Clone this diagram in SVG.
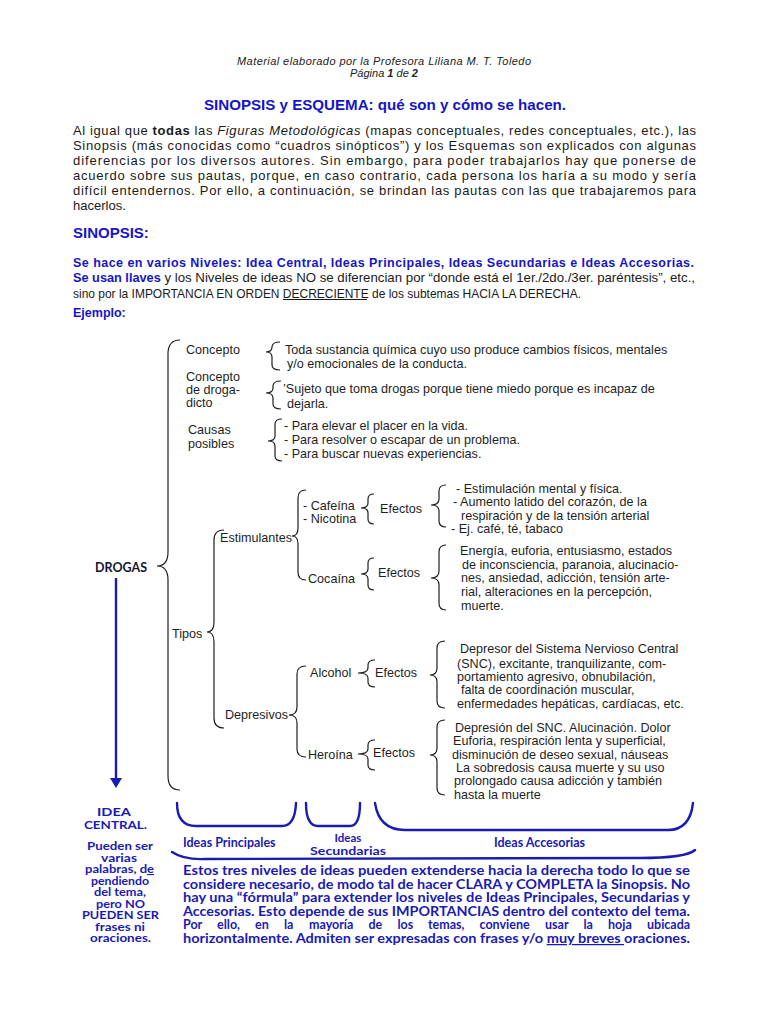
<svg xmlns="http://www.w3.org/2000/svg" width="768" height="1024" viewBox="0 0 768 1024">
<style>
.hd{font-family:"Liberation Sans",Arial,sans-serif;font-size:11px;font-style:italic;fill:#222}
.ttl{font-family:"Liberation Sans",Arial,sans-serif;font-size:15px;font-weight:bold;fill:#1515c8}
.p{font-family:"Liberation Sans",Arial,sans-serif;font-size:13px;fill:#1a1a1a}
.bl{font-family:"Liberation Sans",Arial,sans-serif;font-weight:bold;fill:#1515c8}
.d{font-family:"Liberation Sans",Arial,sans-serif;font-size:12.6px;fill:#1e1e1e}
.dr{font-family:Lato,"Open Sans",sans-serif;font-size:12.5px;font-weight:bold;fill:#14142e}
.cb{font-family:Lato,"Open Sans",sans-serif;font-weight:bold;fill:#1a1ab4}
.br{fill:none;stroke:#1e1e1e;stroke-width:1.2}
.bb{fill:none;stroke:#1a1ab4;stroke-width:2.4;stroke-linecap:round}
</style>
<rect width="768" height="1024" fill="#ffffff"/>

<g id="header">
<text class="hd" x="237" y="65" textLength="294" lengthAdjust="spacing">Material elaborado por la Profesora Liliana M. T. Toledo</text>
<text class="hd" x="384" y="77" text-anchor="middle">Página <tspan font-weight="bold">1</tspan> de <tspan font-weight="bold">2</tspan></text>
<text class="ttl" x="204" y="110" textLength="362" lengthAdjust="spacingAndGlyphs">SINOPSIS y ESQUEMA: qué son y cómo se hacen.</text>
</g>

<g id="intro">
<text class="p" x="73" y="135" textLength="623" lengthAdjust="spacing">Al igual que <tspan font-weight="bold">todas</tspan> las <tspan font-style="italic">Figuras Metodológicas</tspan> (mapas conceptuales, redes conceptuales, etc.), las</text>
<text class="p" x="73" y="150" textLength="623" lengthAdjust="spacing">Sinopsis (más conocidas como “cuadros sinópticos”) y los Esquemas son explicados con algunas</text>
<text class="p" x="73" y="165" textLength="623" lengthAdjust="spacing">diferencias por los diversos autores. Sin embargo, para poder trabajarlos hay que ponerse de</text>
<text class="p" x="73" y="180" textLength="623" lengthAdjust="spacing">acuerdo sobre sus pautas, porque, en caso contrario, cada persona los haría a su modo y sería</text>
<text class="p" x="73" y="195" textLength="623" lengthAdjust="spacing">difícil entendernos. Por ello, a continuación, se brindan las pautas con las que trabajaremos para</text>
<text class="p" x="73" y="210">hacerlos.</text>
</g>

<g id="sinopsis">
<text class="bl" x="73" y="238" font-size="15">SINOPSIS:</text>
<text class="bl" x="73" y="267" font-size="12.5" textLength="621" lengthAdjust="spacing">Se hace en varios Niveles: Idea Central, Ideas Principales, Ideas Secundarias e Ideas Accesorias.</text>
<text class="p" x="73" y="281.5" font-size="12.5" textLength="622" lengthAdjust="spacingAndGlyphs"><tspan class="bl" font-size="12.5">Se usan llaves</tspan> y los Niveles de ideas NO se diferencian por “donde está el 1er./2do./3er. paréntesis”, etc.,</text>
<text class="p" x="73" y="297.5" font-size="12.5" textLength="508" lengthAdjust="spacingAndGlyphs">sino por la IMPORTANCIA EN ORDEN DECRECIENTE de los subtemas HACIA LA DERECHA.</text>
<line x1="283" y1="299.5" x2="367" y2="299.5" stroke="#1a1a1a" stroke-width="1"/>
<text class="bl" x="73" y="317" font-size="12.5">Ejemplo:</text>
</g>

<g id="connectors">
<path class="br" d="M180,340 Q168,340 168,354 L168,552 Q168,566 157,566 Q168,566 168,580 L168,776 Q168,790 180,790"/>
<path class="br" d="M280,342 Q272,342 272,347 Q272,352 266,352 Q272,352 272,357 L272,365 Q272,370 280,370"/>
<path class="br" d="M281,381 Q273,381 273,386 L273,388 Q273,393 266,393 Q273,393 273,398 L273,404 Q273,409 281,409"/>
<path class="br" d="M282,419 Q275,419 275,424 L275,436 Q275,441 268,441 Q275,441 275,446 L275,456 Q275,461 282,461"/>
<path class="br" d="M224,530 Q214,530 214,540 L214,622 Q214,632 207,632 Q214,632 214,642 L214,718 Q214,728 224,728"/>
<path class="br" d="M306,490 Q298,490 298,498 L298,528 Q298,536 292,536 Q298,536 298,544 L298,572 Q298,580 306,580"/>
<path class="br" d="M374,494 Q368,494 368,499 L368,503 Q368,508 361,508 Q368,508 368,513 L368,519 Q368,524 374,524"/>
<path class="br" d="M446,485 Q439,485 439,491 L439,499 Q439,505 431,505 Q439,505 439,511 L439,521 Q439,527 446,527"/>
<path class="br" d="M374,558 Q368,558 368,563 L368,569 Q368,574 361,574 Q368,574 368,579 L368,585 Q368,590 374,590"/>
<path class="br" d="M446,545 Q439,545 439,552 L439,571 Q439,578 431,578 Q439,578 439,585 L439,603 Q439,610 446,610"/>
<path class="br" d="M306,666 Q297,666 297,674 L297,707 Q297,715 289,715 Q297,715 297,723 L297,749 Q297,757 306,757"/>
<path class="br" d="M375,660 Q368,660 368,665 L368,668 Q368,673 358,673 Q368,673 368,678 L368,682 Q368,687 375,687"/>
<path class="br" d="M445,641 Q437,641 437,648 L437,668 Q437,675 430,675 Q437,675 437,682 L437,701 Q437,708 445,708"/>
<path class="br" d="M375,740 Q368,740 368,745 L368,749 Q368,754 358,754 Q368,754 368,759 L368,765 Q368,770 375,770"/>
<path class="br" d="M445,720 Q437,720 437,727 L437,748 Q437,755 430,755 Q437,755 437,762 L437,788 Q437,795 445,795"/>
<line x1="116" y1="578" x2="116" y2="779" stroke="#1a1ab4" stroke-width="2.4"/>
<polygon points="110,778 122,778 116,788" fill="#1a1ab4"/>
<path class="bb" d="M177,803 Q177,826 196,826 L282,826 Q295,826 296,803"/>
<path class="bb" d="M306,803 Q306,826 318,826 L350,826 Q360,826 360,803"/>
<path class="bb" d="M375,803 Q379,830 405,830 L668,830 Q690,830 693,803"/>
<path class="bb" d="M172,852 Q184,860 205,859 L640,858 Q686,858 695,850" stroke-width="2"/>
</g>

<g id="drogas"><text class="dr" x="95" y="572" textLength="52" lengthAdjust="spacingAndGlyphs">DROGAS</text></g>

<g id="concepto">
<text class="d" x="186" y="354">Concepto</text>
<text class="d" x="285" y="354">Toda sustancia química cuyo uso produce cambios físicos, mentales</text>
<text class="d" x="287" y="368">y/o emocionales de la conducta.</text>
</g>
<g id="drogadicto">
<text class="d" x="186" y="381">Concepto</text>
<text class="d" x="186" y="394">de droga-</text>
<text class="d" x="186" y="407">dicto</text>
<text class="d" x="283" y="393">’Sujeto que toma drogas porque tiene miedo porque es incapaz de</text>
<text class="d" x="287" y="408">dejarla.</text>
</g>
<g id="causas">
<text class="d" x="188" y="434">Causas</text>
<text class="d" x="188" y="448">posibles</text>
<text class="d" x="284" y="430">- Para elevar el placer en la vida.</text>
<text class="d" x="284" y="444">- Para resolver o escapar de un problema.</text>
<text class="d" x="284" y="458">- Para buscar nuevas experiencias.</text>
</g>

<g id="tipos"><text class="d" x="172" y="638">Tipos</text></g>
<g id="estimulantes"><text class="d" x="220" y="542">Estimulantes</text></g>
<g id="cafeina">
<text class="d" x="303" y="510">- Cafeína</text>
<text class="d" x="303" y="523">- Nicotina</text>
<text class="d" x="380" y="513">Efectos</text>
<text class="d" x="456" y="493">-  Estimulación mental y física.</text>
<text class="d" x="453" y="506">-  Aumento latido del corazón, de la</text>
<text class="d" x="461" y="520">respiración y de la tensión arterial</text>
<text class="d" x="451" y="533">-  Ej. café, té, tabaco</text>
</g>
<g id="cocaina">
<text class="d" x="308" y="583">Cocaína</text>
<text class="d" x="378" y="577">Efectos</text>
<text class="d" x="460" y="555">Energía, euforia, entusiasmo, estados</text>
<text class="d" x="462" y="569">de inconsciencia, paranoia, alucinacio-</text>
<text class="d" x="461" y="582">nes, ansiedad, adicción, tensión arte-</text>
<text class="d" x="461" y="596">rial, alteraciones en la percepción,</text>
<text class="d" x="461" y="610">muerte.</text>
</g>
<g id="depresivos"><text class="d" x="225" y="719">Depresivos</text></g>
<g id="alcohol">
<text class="d" x="310" y="677">Alcohol</text>
<text class="d" x="375" y="677">Efectos</text>
<text class="d" x="460" y="653">Depresor del Sistema Nervioso Central</text>
<text class="d" x="457" y="668">(SNC), excitante, tranquilizante, com-</text>
<text class="d" x="457" y="681">portamiento agresivo, obnubilación,</text>
<text class="d" x="461" y="694">falta de coordinación muscular,</text>
<text class="d" x="457" y="708">enfermedades hepáticas, cardíacas, etc.</text>
</g>
<g id="heroina">
<text class="d" x="308" y="759">Heroína</text>
<text class="d" x="373" y="757">Efectos</text>
<text class="d" x="455" y="732">Depresión del SNC. Alucinación. Dolor</text>
<text class="d" x="453" y="745">Euforia, respiración lenta y  superficial,</text>
<text class="d" x="452" y="759">disminución de deseo sexual, náuseas</text>
<text class="d" x="456" y="772">La sobredosis causa muerte y su uso</text>
<text class="d" x="454" y="785">prolongado causa adicción y también</text>
<text class="d" x="454" y="799">hasta la muerte</text>
</g>

<g id="idea-central">
<text class="cb" x="97" y="816" font-size="11.5" textLength="34" lengthAdjust="spacingAndGlyphs">IDEA</text>
<text class="cb" x="84" y="829" font-size="11.5" textLength="63" lengthAdjust="spacingAndGlyphs">CENTRAL.</text>
<text class="cb" x="87" y="850" font-size="11" textLength="66" lengthAdjust="spacingAndGlyphs">Pueden ser</text>
<text class="cb" x="101" y="861.5" font-size="11" textLength="36" lengthAdjust="spacingAndGlyphs">varias</text>
<text class="cb" x="85" y="873" font-size="11" textLength="69" lengthAdjust="spacingAndGlyphs">palabras, d<tspan text-decoration="underline">e</tspan></text>
<text class="cb" x="91" y="884.5" font-size="11" textLength="58" lengthAdjust="spacingAndGlyphs">pendiendo</text>
<text class="cb" x="94" y="896" font-size="11" textLength="52" lengthAdjust="spacingAndGlyphs">del tema,</text>
<text class="cb" x="96" y="907.5" font-size="11" textLength="49" lengthAdjust="spacingAndGlyphs">pero NO</text>
<text class="cb" x="82" y="919" font-size="11" textLength="77" lengthAdjust="spacingAndGlyphs">PUEDEN SER</text>
<text class="cb" x="95" y="930.5" font-size="11" textLength="50" lengthAdjust="spacingAndGlyphs">frases ni</text>
<text class="cb" x="90" y="942" font-size="11" textLength="61" lengthAdjust="spacingAndGlyphs">oraciones.</text>
</g>
<g id="labels">
<text class="cb" x="183" y="847" font-size="12.5">Ideas Principales</text>
<text class="cb" x="348" y="842" font-size="11.5" text-anchor="middle">Ideas</text>
<text class="cb" x="310" y="855" font-size="11.5" textLength="76" lengthAdjust="spacingAndGlyphs">Secundarias</text>
<text class="cb" x="494" y="847" font-size="12.5">Ideas Accesorias</text>
</g>
<g id="nota">
<text class="cb" x="183" y="875" font-size="12.5" textLength="507" lengthAdjust="spacingAndGlyphs">Estos tres niveles de ideas pueden extenderse hacia la derecha todo lo que se</text>
<text class="cb" x="183" y="889" font-size="12.5" textLength="507" lengthAdjust="spacingAndGlyphs">considere necesario, de modo tal de hacer CLARA y COMPLETA la Sinopsis. No</text>
<text class="cb" x="183" y="902" font-size="12.5" textLength="507" lengthAdjust="spacingAndGlyphs">hay una “fórmula” para extender los niveles de Ideas Principales, Secundarias y</text>
<text class="cb" x="183" y="916" font-size="12.5" textLength="507" lengthAdjust="spacingAndGlyphs">Accesorias. Esto depende de sus IMPORTANCIAS dentro del contexto del tema.</text>
<text class="cb" y="929" font-size="12.5"><tspan x="183">Por</tspan> <tspan x="217">ello,</tspan> <tspan x="255">en</tspan> <tspan x="284">la</tspan> <tspan x="309">mayoría</tspan> <tspan x="368.5">de</tspan> <tspan x="397.5">los</tspan> <tspan x="428">temas,</tspan> <tspan x="479.5">conviene</tspan> <tspan x="545">usar</tspan> <tspan x="583.5">la</tspan> <tspan x="608">hoja</tspan> <tspan x="647">ubicada</tspan></text>
<text class="cb" x="183" y="943" font-size="12.5" textLength="507" lengthAdjust="spacingAndGlyphs">horizontalmente. Admiten ser expresadas con frases y/o <tspan text-decoration="underline">muy breves </tspan>oraciones.</text>
</g>
</svg>
